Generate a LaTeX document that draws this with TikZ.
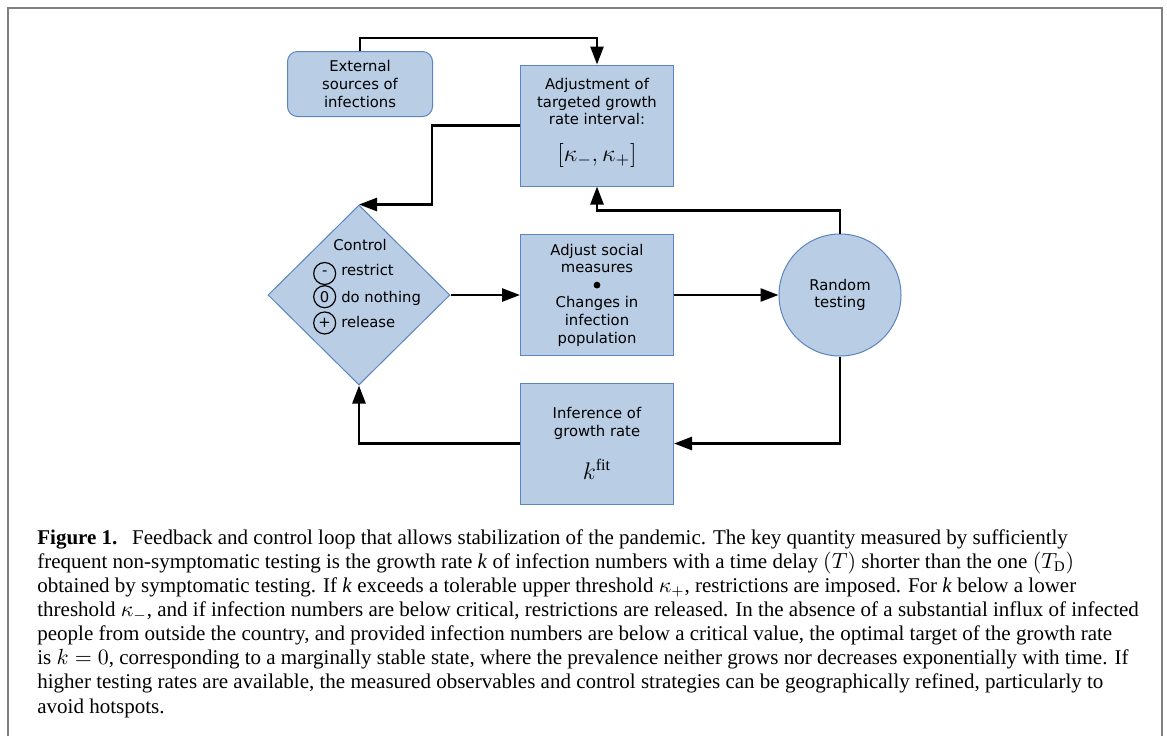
\documentclass[tikz,border=0pt]{standalone}
\usepackage{fontspec}
\setmainfont{Liberation Serif}
\newfontfamily\boxfont{DejaVu Sans}
\usetikzlibrary{shapes.geometric,arrows.meta}
\definecolor{boxfill}{HTML}{B9CDE5}
\definecolor{boxline}{HTML}{5A85C0}
\definecolor{framegray}{HTML}{808080}
\newcommand{\csym}[1]{\tikz[baseline=(s.base)]\node[circle,draw=black,line width=0.6pt,inner sep=0pt,minimum size=11pt,font=\boxfont\fontsize{7.4}{8}\selectfont](s){#1};}
\newcommand{\sepdot}{\tikz[baseline=-2.6pt]\fill (0pt,0pt) circle (1.7pt);}
\newcommand{\bigmath}[1]{{\fontsize{11.5}{13}\selectfont$#1$}}
\tikzset{
  block/.style={rectangle,draw=boxline,fill=boxfill,line width=0.5pt,minimum width=76.5pt,minimum height=60.5pt,inner sep=0pt},
  boxtext/.style={align=center,font=\boxfont\fontsize{7.4}{8.8}\selectfont},
  flow/.style={line width=1.3pt,-{Triangle[length=9pt,width=6.5pt]}}
}
\begin{document}
\begin{tikzpicture}[x=0.5pt,y=-0.5pt]
  \useasboundingbox (0,0) rectangle (1167,736);
  \draw[framegray,line width=1pt] (8,736)--(8,8)--(1162,8)--(1162,736);
  \node[block,rounded corners=5pt,minimum width=72.5pt,minimum height=32.5pt,boxtext] (ext) at (360,84) {External\\sources of\\infections};
  \node[block,boxtext] (adj) at (597,125.5) {Adjustment of\\targeted growth\\rate interval:\\[8pt]\bigmath{\bigl[\kappa_-,\kappa_+\bigr]}\\[-3pt]\mbox{}};
  \node[diamond,draw=boxline,fill=boxfill,line width=0.5pt,minimum width=91pt,minimum height=90pt,inner sep=0pt] (ctrl) at (359,295) {};
  \node[boxtext] (ctrltext) at (367,287) {Control\hspace*{7pt}\\[4.5pt]\begin{tabular}{@{}l@{}}\csym{-}\hspace{2.5pt}restrict\\[2pt]\csym{0}\hspace{2.5pt}do nothing\\[2pt]\csym{+}\hspace{2.5pt}release\end{tabular}};
  \node[block,boxtext] (soc) at (597,295) {Adjust social\\measures\\\sepdot\\Changes in\\infection\\population};
  \node[circle,draw=boxline,fill=boxfill,line width=0.5pt,minimum size=61pt,inner sep=0pt,boxtext] (test) at (840,295) {Random\\testing};
  \node[block,boxtext] (inf) at (597,443.5) {Inference of\\growth rate\\[9pt]\bigmath{k^{\mathrm{fit}}}};
  \draw[flow] (ext.north) -- ++(0,-13) -| (adj.north);
  \draw[flow] (adj.west) -- ++(-88,0) |- (ctrl.north);
  \draw[flow] (ctrl.east) -- (soc.west);
  \draw[flow] (soc.east) -- (test.west);
  \draw[flow] (test.north) -- ++(0,-23) -| (adj.south);
  \draw[flow] (test.south) |- (inf.east);
  \draw[flow] (inf.west) -| (ctrl.south);
  \node[anchor=base west,align=left,inner sep=0pt,font=\fontsize{10.5}{12.05}\selectfont] (caption) at (37,713) {\textbf{Figure 1.}\hspace{0.7em}Feedback and control loop that allows stabilization of the pandemic. The key quantity measured by sufficiently\\
frequent non-symptomatic testing is the growth rate \textit{k} of infection numbers with a time delay $(T)$ shorter than the one $(T_{\mathrm{D}})$\\
obtained by symptomatic testing. If \textit{k} exceeds a tolerable upper threshold $\kappa_+$, restrictions are imposed. For \textit{k} below a lower\\
threshold $\kappa_-$, and if infection numbers are below critical, restrictions are released. In the absence of a substantial influx of infected\\
people from outside the country, and provided infection numbers are below a critical value, the optimal target of the growth rate\\
is $k=0$, corresponding to a marginally stable state, where the prevalence neither grows nor decreases exponentially with time. If\\
higher testing rates are available, the measured observables and control strategies can be geographically refined, particularly to\\
avoid hotspots.};
\end{tikzpicture}
\end{document}
